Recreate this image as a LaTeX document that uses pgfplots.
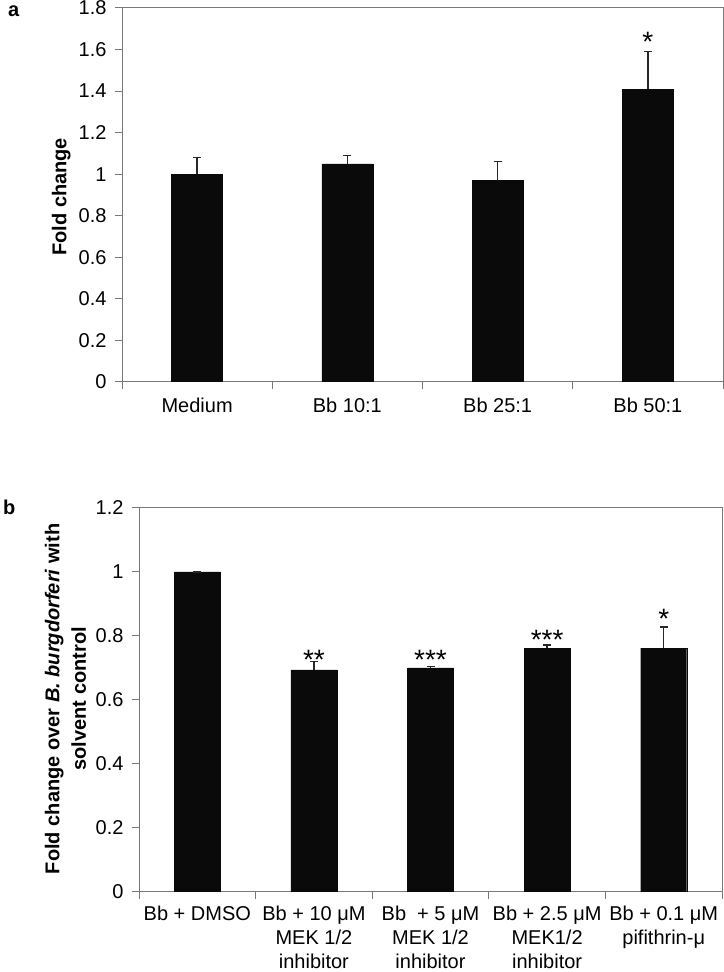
\documentclass[border=0pt]{standalone}
\usepackage{pgfplots}
\pgfplotsset{compat=1.18}
\usepackage{fontspec}
\setmainfont{Liberation Sans}
\definecolor{axgray}{RGB}{120,120,120}
\definecolor{barblack}{RGB}{10,10,10}
\definecolor{errgray}{RGB}{40,40,40}
\newcommand\f{\fontsize{20bp}{23.5bp}\selectfont}
\newcommand\st{\fontsize{28bp}{30bp}\selectfont}

\pgfplotsset{
 mystyle/.style={
  scale only axis,
  axis line style={axgray, line width=1bp},
  tick style={axgray, line width=1bp},
  tick align=outside,
  major tick length=7bp,
  minor tick length=7bp,
  tick pos=left,
  ybar,
  /pgf/number format/assume math mode=true,
  tick label style={font=\f},
  major x tick style={draw=none},
  error bars/y dir=plus,
  error bars/y explicit,
  error bars/error mark=-,
  error bars/error bar style={errgray, line width=1.5bp},
  error bars/error mark options={rotate=90, errgray, line width=1.5bp, mark size=4bp},
 }
}

\begin{document}
\begin{tikzpicture}[x=1bp,y=1bp,font=\f]
\path[use as bounding box] (0,0) rectangle (724,972);
\node[anchor=base west, font=\f\bfseries, inner sep=0] at (8,955) {a};
\node[anchor=base west, font=\f\bfseries, inner sep=0] at (3,457) {b};

\begin{axis}[mystyle, at={(122bp,590bp)}, anchor=south west,
  width=601bp, height=374bp,
  xmin=-0.5, xmax=3.5, ymin=0, ymax=1.8,
  ytick={0,0.2,0.4,0.6,0.8,1,1.2,1.4,1.6,1.8},
  xtick={0,1,2,3},
  xticklabels={Medium,Bb 10:1,Bb 25:1,Bb 50:1},
  minor xtick={-0.5,0.5,1.5,2.5,3.5},
  bar width=51bp,
  ylabel={Fold change},
  ylabel style={at={(axis description cs:-0.101,0.495)}, anchor=center, font=\f\bfseries},
  xticklabel style={yshift=-5bp},
  yticklabel style={xshift=-5bp},
]
\addplot[fill=barblack, draw=barblack] coordinates {
  (0,1.00) +- (0,0.08)
  (1,1.05) +- (0,0.04)
  (2,0.97) +- (0,0.09)
  (3,1.41) +- (0,0.18)
};
\node[anchor=base, font=\st, inner sep=0] at (axis cs:3,1.589) {*};
\end{axis}

\begin{axis}[mystyle, at={(139bp,80bp)}, anchor=south west,
  width=583bp, height=384bp,
  xmin=-0.5, xmax=4.5, ymin=0, ymax=1.2,
  ytick={0,0.2,0.4,0.6,0.8,1,1.2},
  xtick={0,1,2,3,4},
  xticklabels={{Bb + DMSO},{Bb + 10 μM\\[0.5bp]MEK 1/2\\[0.5bp]inhibitor},{Bb\ \ + 5 μM\\[0.5bp]MEK 1/2\\[0.5bp]inhibitor},{Bb + 2.5 μM\\[0.5bp]MEK1/2\\[0.5bp]inhibitor},{Bb + 0.1 μM\\[0.5bp]pifithrin-μ}},
  minor xtick={-0.5,0.5,1.5,2.5,3.5,4.5},
  bar width=46bp,
  xticklabel style={align=center, inner sep=0pt, yshift=-7bp},
  yticklabel style={xshift=-5bp},
  ylabel={Fold change over \textit{B. burgdorferi} with\\[3bp]solvent control},
  ylabel style={at={(axis description cs:-0.126,0.503)}, anchor=center, align=center, font=\f\bfseries},
]
\addplot[fill=barblack, draw=barblack] coordinates {
  (0,1.000) +- (0,0.000)
  (1,0.694) +- (0,0.026)
  (2,0.700) +- (0,0.004)
  (3,0.762) +- (0,0.010)
  (4,0.762) +- (0,0.066)
};
\node[anchor=base, font=\st, inner sep=0] at (axis cs:1,0.696) {**};
\node[anchor=base, font=\st, inner sep=0] at (axis cs:2,0.696) {***};
\node[anchor=base, font=\st, inner sep=0] at (axis cs:3,0.758) {***};
\node[anchor=base, font=\st, inner sep=0] at (axis cs:4,0.824) {*};
\end{axis}
\end{tikzpicture}
\end{document}
